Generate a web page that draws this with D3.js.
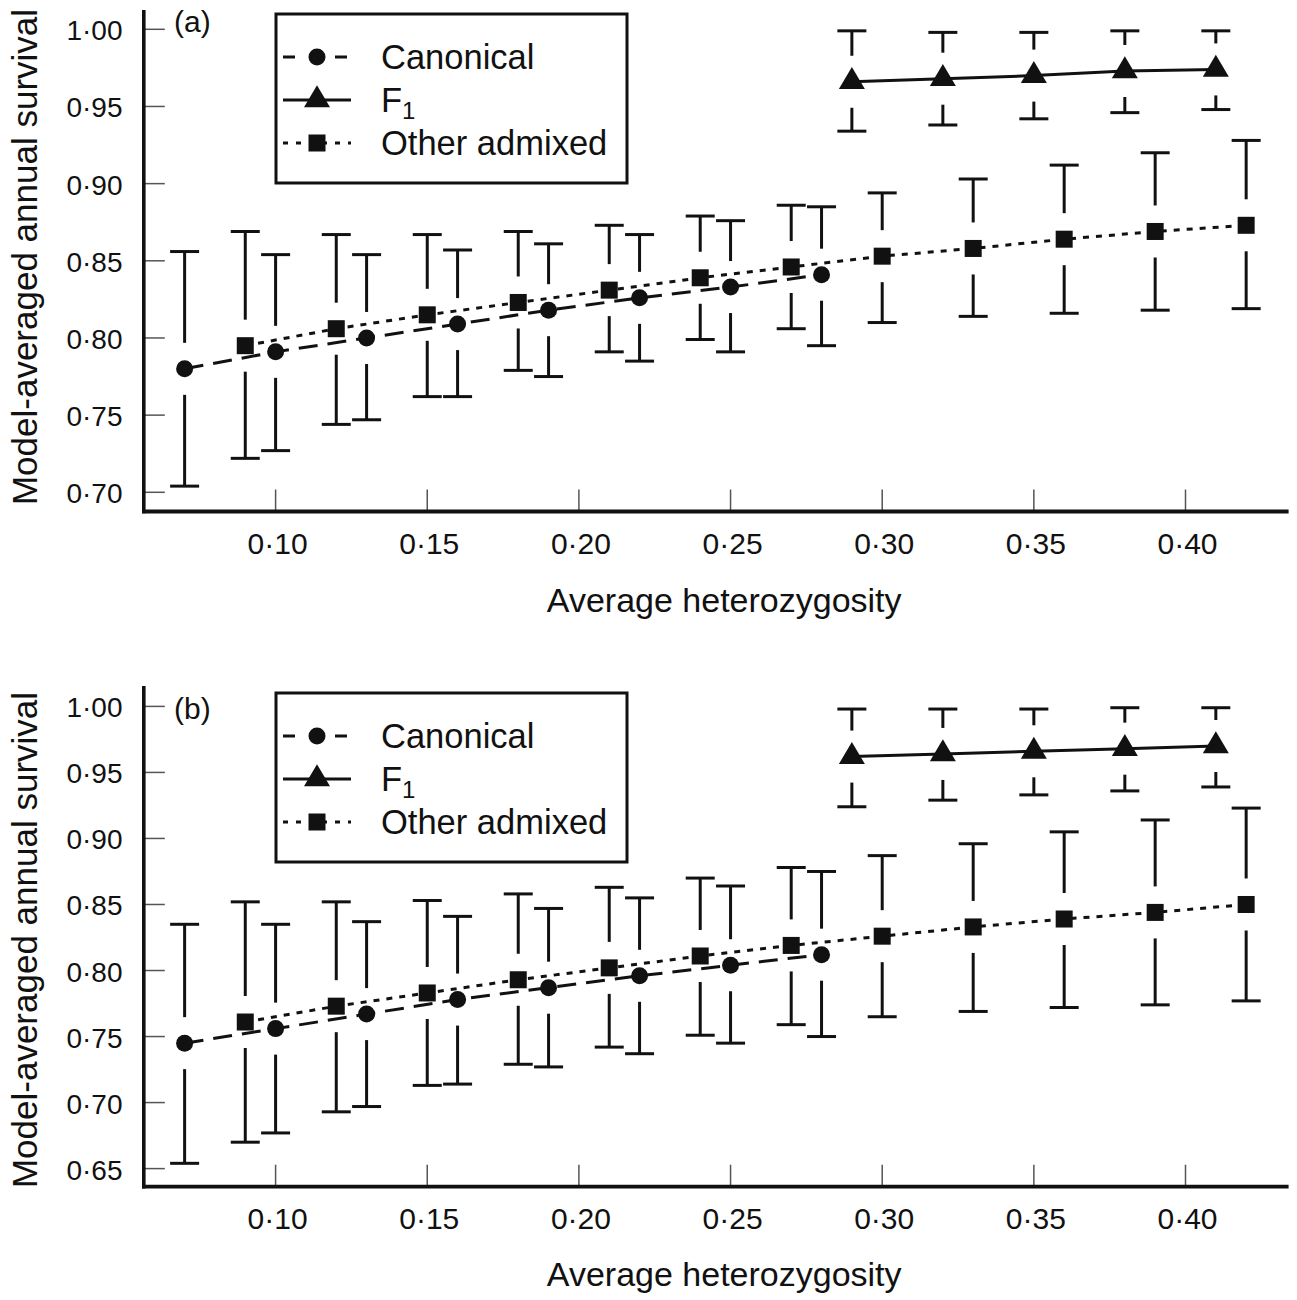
<!DOCTYPE html>
<html><head><meta charset="utf-8">
<script src="https://cdn.jsdelivr.net/npm/d3@7"></script>
<style>body{margin:0;background:#fff}svg{display:block}text{font-family:"Liberation Sans",Arial,sans-serif;fill:#111}</style>
</head><body>
<svg id="c" width="1297" height="1300"></svg>
<script>
// ---- data ----
const canonX = [0.07,0.10,0.13,0.16,0.19,0.22,0.25,0.28];
const f1X = [0.29,0.32,0.35,0.38,0.41];
const otherX = [0.09,0.12,0.15,0.18,0.21,0.24,0.27,0.30,0.33,0.36,0.39,0.42];

const aCanonEst = [0.780,0.791,0.800,0.809,0.818,0.826,0.833,0.841];
const aCanonLo  = [0.704,0.727,0.747,0.762,0.775,0.785,0.791,0.795];
const aCanonHi  = [0.856,0.854,0.854,0.857,0.861,0.867,0.876,0.885];
const aF1Est = [0.966,0.968,0.970,0.973,0.974];
const aF1Lo  = [0.934,0.938,0.942,0.946,0.948];
const aF1Hi  = [0.999,0.998,0.998,0.999,0.999];
const aOtherEst = [0.795,0.806,0.815,0.823,0.831,0.839,0.846,0.853,0.858,0.864,0.869,0.873];
const aOtherLo  = [0.722,0.744,0.762,0.779,0.791,0.799,0.806,0.810,0.814,0.816,0.818,0.819];
const aOtherHi  = [0.869,0.867,0.867,0.869,0.873,0.879,0.886,0.894,0.903,0.912,0.920,0.928];

const bCanonEst = [0.745,0.756,0.767,0.778,0.787,0.796,0.804,0.812];
const bCanonLo  = [0.654,0.677,0.697,0.714,0.727,0.737,0.745,0.750];
const bCanonHi  = [0.835,0.835,0.837,0.841,0.847,0.855,0.864,0.875];
const bF1Est = [0.962,0.964,0.966,0.968,0.970];
const bF1Lo  = [0.924,0.929,0.933,0.936,0.939];
const bF1Hi  = [0.998,0.998,0.998,0.999,0.999];
const bOtherEst = [0.761,0.773,0.783,0.793,0.802,0.811,0.819,0.826,0.833,0.839,0.844,0.850];
const bOtherLo  = [0.670,0.693,0.713,0.729,0.742,0.751,0.759,0.765,0.769,0.772,0.774,0.777];
const bOtherHi  = [0.852,0.852,0.853,0.858,0.863,0.870,0.878,0.887,0.896,0.905,0.914,0.923];

const xTicks = [0.10,0.15,0.20,0.25,0.30,0.35,0.40];
const aYTicks = [0.70,0.75,0.80,0.85,0.90,0.95,1.00];
const bYTicks = [0.65,0.70,0.75,0.80,0.85,0.90,0.95,1.00];
const legendLabels = ["Canonical","F1","Other admixed"];
const xTitle = "Average heterozygosity";
const yTitle = "Model-averaged annual survival";
const fmt = v => d3.format(".2f")(v).replace(".", "\u00B7");

const svg = d3.select("#c");
const INK = "#111";
const x = d3.scaleLinear().domain([0.10,0.40]).range([275.6,1185.5]);

function panel(cfg){
  const g = svg.append("g");
  const y = d3.scaleLinear().domain(cfg.yd).range(cfg.yr);
  const L = 143.8, R = 1288.6, T = cfg.top, B = cfg.bottom;
  // tick marks (inward)
  g.selectAll(".yt").data(cfg.yTicks).join("line")
    .attr("x1",L).attr("x2",L+21).attr("y1",d=>y(d)).attr("y2",d=>y(d))
    .attr("stroke","#555").attr("stroke-width",1.5);
  g.selectAll(".xt").data(xTicks).join("line")
    .attr("x1",d=>x(d)).attr("x2",d=>x(d)).attr("y1",B).attr("y2",B-22)
    .attr("stroke","#555").attr("stroke-width",1.5);
  // tick labels
  g.selectAll(".yl").data(cfg.yTicks).join("text")
    .attr("x",122.5).attr("y",d=>y(d)+11).attr("text-anchor","end")
    .attr("font-size",28).text(fmt);
  g.selectAll(".xl").data(xTicks).join("text")
    .attr("x",d=>x(d)+2).attr("y",B+cfg.labGap).attr("text-anchor","middle")
    .attr("font-size",30).text(fmt);
  // axis lines
  g.append("line").attr("x1",L).attr("x2",L).attr("y1",T).attr("y2",B+1.8)
    .attr("stroke",INK).attr("stroke-width",3.6);
  g.append("line").attr("x1",L-1.8).attr("x2",R).attr("y1",B).attr("y2",B)
    .attr("stroke",INK).attr("stroke-width",3.8);
  // titles
  g.append("text").attr("x",(L+R)/2+8).attr("y",B+cfg.titGap).attr("text-anchor","middle")
    .attr("font-size",34).text(xTitle);
  g.append("text").attr("transform",`translate(37,${cfg.yTitleMid}) rotate(-90)`)
    .attr("text-anchor","middle").attr("font-size",35).text(yTitle);
  g.append("text").attr("x",174).attr("y",cfg.labY).attr("font-size",30).text(cfg.label);

  const series = [
    {xs:canonX, est:cfg.canon[0], lo:cfg.canon[1], hi:cfg.canon[2], dash:"19,10", shape:"circle"},
    {xs:otherX, est:cfg.other[0], lo:cfg.other[1], hi:cfg.other[2], dash:"6,7", shape:"square"},
    {xs:f1X, est:cfg.f1[0], lo:cfg.f1[1], hi:cfg.f1[2], dash:null, shape:"triangle"}
  ];
  const GAP = 26, CAP = 14.5;
  series.forEach(s=>{
    const pts = s.xs.map((xv,i)=>({x:xv, e:s.est[i], lo:s.lo[i], hi:s.hi[i]}));
    // error bars
    pts.forEach(p=>{
      const cx = x(p.x), cy = y(p.e), yh = y(p.hi), yl = y(p.lo);
      if (cy - yh > GAP) g.append("line").attr("x1",cx).attr("x2",cx).attr("y1",yh).attr("y2",cy-GAP)
        .attr("stroke",INK).attr("stroke-width",3);
      if (yl - cy > GAP) g.append("line").attr("x1",cx).attr("x2",cx).attr("y1",cy+GAP).attr("y2",yl)
        .attr("stroke",INK).attr("stroke-width",3);
      g.append("line").attr("x1",cx-CAP).attr("x2",cx+CAP).attr("y1",yh).attr("y2",yh).attr("stroke",INK).attr("stroke-width",3);
      g.append("line").attr("x1",cx-CAP).attr("x2",cx+CAP).attr("y1",yl).attr("y2",yl).attr("stroke",INK).attr("stroke-width",3);
    });
    const line = d3.line().x(p=>x(p.x)).y(p=>y(p.e));
    g.append("path").datum(pts).attr("d",line).attr("fill","none").attr("stroke",INK)
      .attr("stroke-width",3).attr("stroke-dasharray",s.dash);
    pts.forEach(p=>drawMarker(g, s.shape, x(p.x), y(p.e)));
  });

  // legend
  const lg = g.append("g");
  const lx = 276, ly = cfg.legTop;
  lg.append("rect").attr("x",lx).attr("y",ly).attr("width",351).attr("height",169)
    .attr("fill","#fff").attr("stroke",INK).attr("stroke-width",3);
  const rows = [{shape:"circle",dash:"12,14"},{shape:"triangle",dash:null},{shape:"square",dash:"5,8"}];
  rows.forEach((r,i)=>{
    const cy = ly + 43 + i*43;
    lg.append("line").attr("x1",lx+7).attr("x2",lx+75).attr("y1",cy).attr("y2",cy)
      .attr("stroke",INK).attr("stroke-width",3).attr("stroke-dasharray",r.dash);
    drawMarker(lg, r.shape, lx+41, cy);
    const t = lg.append("text").attr("x",lx+105).attr("y",cy+12).attr("font-size",34.5);
    if (legendLabels[i]==="F1"){
      t.append("tspan").text("F");
      t.append("tspan").attr("font-size",24).attr("dy",7).text("1");
    } else t.text(legendLabels[i]);
  });
}

function drawMarker(g, shape, cx, cy){
  if (shape==="circle"){
    g.append("circle").attr("cx",cx).attr("cy",cy).attr("r",8.5).attr("fill",INK);
  } else if (shape==="square"){
    g.append("rect").attr("x",cx-8.5).attr("y",cy-8.5).attr("width",17).attr("height",17).attr("fill",INK);
  } else {
    const w=13, h=22;
    g.append("path").attr("d",`M${cx},${cy-h*2/3}L${cx+w},${cy+h/3}L${cx-w},${cy+h/3}Z`).attr("fill",INK);
  }
}

panel({yd:[0.70,1.00], yr:[492.3,29.3], top:10, bottom:511.5, yTicks:aYTicks, labGap:42.5, titGap:100,
  label:"(a)", labY:32, legTop:14, yTitleMid:257,
  canon:[aCanonEst,aCanonLo,aCanonHi], other:[aOtherEst,aOtherLo,aOtherHi], f1:[aF1Est,aF1Lo,aF1Hi]});
panel({yd:[0.65,1.00], yr:[1168.6,706.4], top:686, bottom:1186.7, yTicks:bYTicks, labGap:42, titGap:99,
  label:"(b)", labY:719, legTop:693, yTitleMid:940,
  canon:[bCanonEst,bCanonLo,bCanonHi], other:[bOtherEst,bOtherLo,bOtherHi], f1:[bF1Est,bF1Lo,bF1Hi]});
</script>
</body></html>
